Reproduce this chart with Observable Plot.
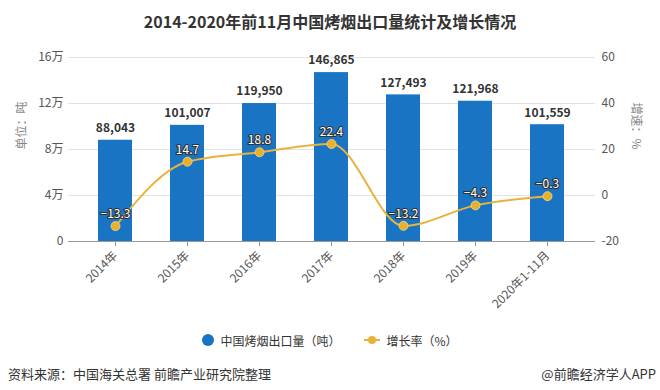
<!DOCTYPE html>
<html>
<head>
<meta charset="utf-8">
<script src="https://cdn.jsdelivr.net/npm/d3@7"></script>
<script src="https://cdn.jsdelivr.net/npm/@observablehq/plot@0.6"></script>
<style>
  html, body { margin: 0; padding: 0; background: #fff; }
  body { width: 660px; height: 390px; position: relative; overflow: hidden;
         font-family: "Noto Sans CJK SC", "Noto Sans", sans-serif; }
  #title { position: absolute; top: 9px; left: 0; width: 660px; text-align: center;
           font-size: 16px; font-weight: bold; color: #333; line-height: 24px; }
  #chart { position: absolute; top: 40px; left: 0; }
  #legend { position: absolute; top: 329px; left: 0; width: 660px; height: 22px;
            display: flex; justify-content: center; align-items: center; font-size: 12px; color: #333; }
  .lg { display: flex; align-items: center; margin: 0 12px; }
  .dot { width: 12px; height: 12px; border-radius: 50%; background: #1a74c4; margin-right: 6px; }
  .ln { position: relative; width: 16px; height: 2px; background: #e8b33a; margin-right: 6px; }
  .ln::after { content: ""; position: absolute; left: 4px; top: -3px; width: 8px; height: 8px;
               border-radius: 50%; background: #e8b33a; }
  #src { position: absolute; top: 364px; left: 8px; font-size: 13px; color: #333; }
  #app { position: absolute; top: 364px; right: 4px; font-size: 13px; color: #333; }
</style>
</head>
<body>
<div id="title">2014-2020年前11月中国烤烟出口量统计及增长情况</div>
<div id="chart"></div>
<div id="legend">
  <div class="lg"><div class="dot"></div>中国烤烟出口量（吨）</div>
  <div class="lg"><div class="ln"></div>增长率（%）</div>
</div>
<div id="src">资料来源：中国海关总署 前瞻产业研究院整理</div>
<div id="app">@前瞻经济学人APP</div>
<script>
const years = ["2014年", "2015年", "2016年", "2017年", "2018年", "2019年", "2020年1-11月"];
const exports = [88043, 101007, 119950, 146865, 127493, 121968, 101559];
const growth = [-13.3, 14.7, 18.8, 22.4, -13.2, -4.3, -0.3];
const leftTicks = [0, 40000, 80000, 120000, 160000];
const rightTicks = [-20, 0, 20, 40, 60];

// right axis (%) mapped onto the left scale: -20..60 -> 0..160000
const toLeft = p => (p + 20) * 2000;
const data = years.map((y, i) => ({year: y, value: exports[i], pct: growth[i], py: toLeft(growth[i])}));

const font = '"Noto Sans CJK SC", "Noto Sans", sans-serif';
const chart = Plot.plot({
  width: 660,
  height: 280,
  marginTop: 17,
  marginBottom: 79,
  marginLeft: 68,
  marginRight: 65,
  style: {fontFamily: font, fontSize: "12px", color: "#555", background: "transparent"},
  x: {domain: years, paddingInner: 0.53, paddingOuter: 0.26, insetLeft: 9, insetRight: 10, label: null},
  y: {domain: [0, 160000], label: null},
  marks: [
    Plot.ruleY(leftTicks.slice(1), {stroke: "#e3e3e3", strokeWidth: 1}),
    Plot.barY(data, {x: "year", y: "value", fill: "#1a74c4"}),
    Plot.ruleY([0], {stroke: "#999"}),
    Plot.axisX({tickSize: 5, tickRotate: -45, tickPadding: 7, stroke: "#999", fill: "#555", fontSize: 12, label: null}),
    Plot.axisY({anchor: "left", ticks: leftTicks, tickSize: 0, tickPadding: 5, fill: "#555",
      tickFormat: d => d === 0 ? "0" : (d / 10000) + "万", label: null}),
    Plot.axisY({anchor: "right", ticks: leftTicks, tickSize: 0, tickPadding: 6, fill: "#555",
      tickFormat: d => String(d / 2000 - 20), label: null}),
    Plot.text(["单位：吨"], {frameAnchor: "left", dx: -46, rotate: -90, fill: "#888", fontSize: 12}),
    Plot.text(["增速：%"], {frameAnchor: "right", dx: 40, rotate: 90, fill: "#888", fontSize: 12}),
    Plot.line(data, {x: "year", y: "py", stroke: "#e8b33a", strokeWidth: 2, curve: "monotone-x"}),
    Plot.dot(data, {x: "year", y: "py", r: 4.5, fill: "#e9b02e", stroke: "#f5d98a", strokeWidth: 0.8}),
    Plot.text(data, {x: "year", y: "value", text: d => d3.format(",")(d.value), dy: -12,
      fontWeight: "bold", fill: "#333", fontSize: 12}),
    Plot.text(data, {x: "year", y: "py", text: d => d3.format(".1f")(d.pct).replace("-", "−"), dy: -12,
      fill: "#fff", stroke: "#333", strokeWidth: 2.2, fontSize: 12})
  ]
});
document.getElementById("chart").appendChild(chart);
</script>
</body>
</html>
